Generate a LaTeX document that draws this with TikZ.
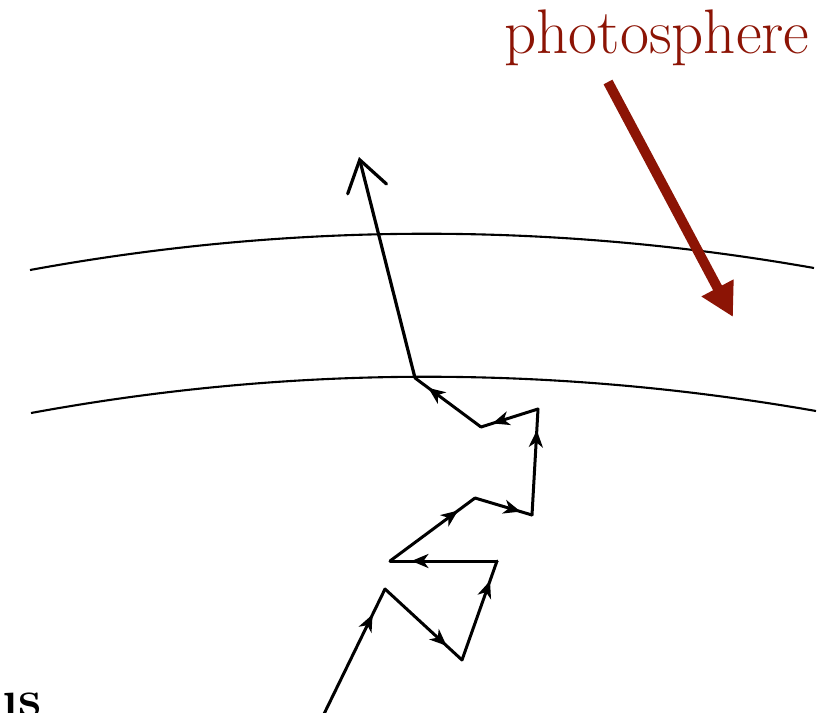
\documentclass[tikz,border=0pt]{standalone}
\usetikzlibrary{arrows.meta,decorations.markings}
\definecolor{photored}{RGB}{140,20,5}
\begin{document}
\begin{tikzpicture}[x=1pt,y=-1pt,
  shell/.style={line width=2.1pt},
  walk/.style={line width=3pt, line cap=round, line join=round, postaction={decorate},
    decoration={markings, mark=at position 0.8 with {\arrow{Stealth[length=17pt,width=14pt,inset=5pt]}}}},
  escape/.style={line width=3.2pt, -{Straight Barb[length=30pt,width=40pt,line cap=round]}},
  pointer/.style={photored, line width=10pt, -{Triangle[length=33pt,width=34pt]}}]
\useasboundingbox (0,0) rectangle (837,712);
\clip (0,0) rectangle (837,712);
% photosphere shells
\coordinate (tl) at (30,270);
\coordinate (tr) at (814,268);
\coordinate (bl) at (31,413);
\coordinate (br) at (816,411);
\draw[shell] (tl) .. controls (292,222) and (553,222) .. (tr);
\draw[shell] (bl) .. controls (292,365) and (553,365) .. (br);
% random walk
\coordinate (p0) at (323,716);
\coordinate (p1) at (385,589);
\coordinate (p2) at (462,660);
\coordinate (p3) at (497,561);
\coordinate (p4) at (390,561);
\coordinate (p5) at (475,498);
\coordinate (p6) at (532,515);
\coordinate (p7) at (538,409);
\coordinate (p8) at (481,427);
\coordinate (p9) at (415,378);
\coordinate (tip) at (359,157);
\draw[walk] (p0) -- (p1);
\draw[walk] (p1) -- (p2);
\draw[walk] (p2) -- (p3);
\draw[walk] (p3) -- (p4);
\draw[walk] (p4) -- (p5);
\draw[walk] (p5) -- (p6);
\draw[walk] (p6) -- (p7);
\draw[walk] (p7) -- (p8);
\draw[walk] (p8) -- (p9);
\draw[escape] (p9) -- (tip);
% label
\node[photored, anchor=base, inner sep=0pt, font=\fontsize{63}{70}\selectfont] (lab) at (657,53) {photosphere};
\coordinate (ps) at (608,82);
\coordinate (pe) at (733,317);
\draw[pointer] (ps) -- (pe);
% cut text at bottom left
\node[anchor=base west, inner sep=0pt, font=\fontsize{52}{56}\selectfont\bfseries] (cut) at (2,716) {\i s};
\end{tikzpicture}
\end{document}
